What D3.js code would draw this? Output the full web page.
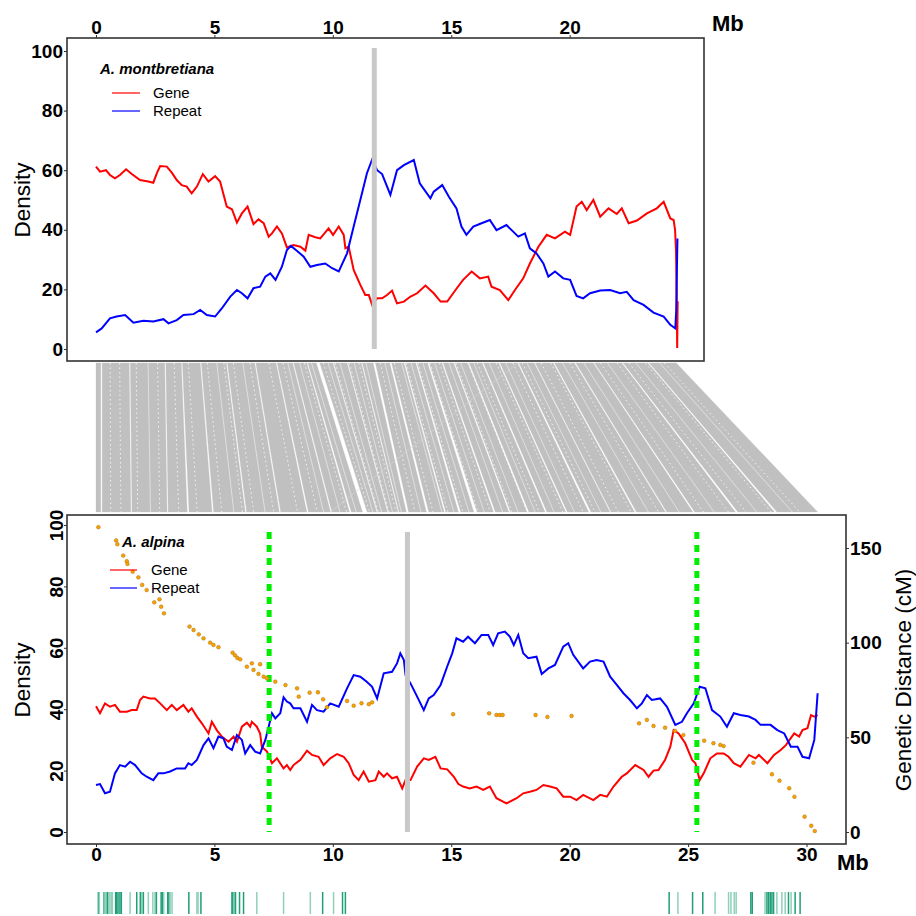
<!DOCTYPE html>
<html><head><meta charset="utf-8">
<script src="https://cdn.jsdelivr.net/npm/d3@7"></script>
<style>body{margin:0;background:#fff} svg{display:block} text{font-family:"Liberation Sans",Arial,sans-serif}</style>
</head><body><svg id="c" width="916" height="916"></svg>
<script>
// ---------------- DATA ----------------
const topXTicks = [0, 5, 10, 15, 20];
const botXTicks = [0, 5, 10, 15, 20, 25, 30];
const densTicks = [0, 20, 40, 60, 80, 100];
const cmTicks = [0, 50, 100, 150];
const speciesTop = "A. montbretiana";
const speciesBot = "A. alpina";
const seriesNames = ["Gene", "Repeat"];

// A. montbretiana gene density [Mb, %]
const topGene = [[0,61.2],[0.17,59.5],[0.42,60],[0.59,58.4],[0.8,57.3],[1.01,58.4],[1.27,60.3],[1.51,58.7],[1.86,56.7],[2.21,56.2],[2.42,55.8],[2.57,59],[2.71,61.4],[2.99,61.2],[3.2,59.2],[3.41,56.7],[3.62,55],[3.83,54.5],[4.04,52.2],[4.26,54.5],[4.51,58.7],[4.75,56.2],[5.03,58],[5.24,56.2],[5.52,47.8],[5.74,46.9],[5.95,42.4],[6.16,45.5],[6.4,47.8],[6.65,41.9],[6.86,43.5],[7.08,42.2],[7.29,37.7],[7.43,38.8],[7.64,41.1],[7.85,38.8],[8.06,34.1],[8.34,34.9],[8.63,34.3],[8.84,33],[8.98,38.3],[9.26,37.5],[9.47,37.1],[9.82,40.5],[10.01,38.3],[10.25,41.1],[10.46,38.3],[10.53,33.8],[10.67,34.3],[10.88,26.5],[11.16,21.5],[11.37,18.1],[11.52,18.1],[11.66,14.8],[11.87,17],[12.08,17],[12.29,18.1],[12.5,19.6],[12.71,15.3],[13,15.9],[13.28,17.6],[13.56,18.7],[13.91,21.3],[14.26,18.7],[14.55,15.9],[14.83,15.9],[15.18,19.8],[15.5,23.2],[15.86,26],[16.21,23.7],[16.56,24.3],[16.7,20.9],[17.05,19.8],[17.41,16.4],[17.69,19.8],[18.04,23.7],[18.32,28.7],[18.68,34.3],[19.03,38.3],[19.38,37.1],[19.8,39.4],[20.02,38.3],[20.29,47.8],[20.51,49.4],[20.72,46.6],[21,50],[21.29,44.4],[21.64,47.2],[21.99,45.3],[22.2,47.2],[22.49,42.2],[22.84,43.1],[23.26,45.5],[23.68,47.2],[23.97,49.4],[24.25,43.8],[24.39,43.3],[24.45,40],[24.49,33],[24.52,18],[24.54,0.3],[24.56,16]];
// A. montbretiana repeat density
const topRepeat = [[0,5.6],[0.24,6.9],[0.59,10.3],[0.87,10.9],[1.23,11.4],[1.58,8.8],[2,9.5],[2.42,9.2],[2.85,10],[3.06,8.6],[3.41,9.7],[3.69,11.4],[4.12,11.7],[4.4,13.1],[4.68,11.4],[5.03,10.9],[5.31,13.6],[5.67,17.6],[5.95,19.8],[6.16,18.7],[6.4,17],[6.65,20.4],[6.93,20.9],[7.15,24.3],[7.36,25.4],[7.58,23.2],[7.85,27.6],[8.06,33.2],[8.23,34.6],[8.48,33],[8.77,31],[9.05,27.6],[9.33,28.2],[9.68,28.7],[9.97,27.1],[10.25,26],[10.6,32.1],[10.88,41.1],[11.16,50],[11.44,59],[11.66,63.6],[11.87,60],[12.08,58.7],[12.43,51.7],[12.71,60],[13,61.7],[13.42,63.4],[13.67,55.6],[14.12,50.6],[14.26,52.8],[14.62,55],[14.9,51.1],[15.22,47.2],[15.43,41.1],[15.64,38.3],[15.93,41.1],[16.28,42.2],[16.63,43.3],[16.91,39.9],[17.33,41.6],[17.55,39.9],[17.83,37.7],[18.11,38.8],[18.32,33.8],[18.6,32.1],[18.89,28.7],[19.1,24.3],[19.38,26],[19.73,23.7],[20.02,23.2],[20.29,17.8],[20.57,17],[20.86,18.7],[21.29,19.6],[21.71,19.8],[22.13,18.7],[22.41,19.2],[22.7,16.4],[23.12,14.8],[23.54,12.2],[23.97,10.9],[24.25,8.1],[24.46,6.9],[24.5,13.1],[24.55,37.1]];
// A. alpina gene density
const botGene = [[0,41],[0.17,38.7],[0.38,41.9],[0.59,40.8],[0.8,41.4],[1.01,39.2],[1.3,39.2],[1.51,39.7],[1.72,39.7],[1.86,43],[2,44.1],[2.28,43.5],[2.49,43.5],[2.71,41.9],[2.99,39.7],[3.2,41.4],[3.41,39.7],[3.69,41.4],[3.9,39.2],[4.04,40.3],[4.26,37.6],[4.47,35.4],[4.75,32.1],[4.89,35.9],[5.1,33.2],[5.31,31.1],[5.6,29.4],[5.81,31.1],[5.95,29.4],[6.16,34.3],[6.37,35.6],[6.51,34.3],[6.58,35.9],[6.79,34.3],[6.93,32.1],[7,27.8],[7.22,26.2],[7.43,22.4],[7.64,24],[7.92,20.7],[8.06,21.8],[8.2,20.2],[8.34,21.8],[8.63,23.5],[8.91,26.5],[9.12,25.1],[9.4,24.5],[9.61,21.8],[9.89,24],[10.18,25.4],[10.46,24.5],[10.67,22.4],[10.88,18.6],[11.09,16.9],[11.3,19.7],[11.52,16.4],[11.8,16.9],[11.94,19.7],[12.15,18],[12.29,19.1],[12.5,17.5],[12.71,18],[12.93,14.2],[13.07,16.9],[13.28,16.9],[13.56,21.3],[13.84,24],[14.05,23.5],[14.33,24.5],[14.55,20.7],[14.83,20.4],[15.11,18],[15.3,15.6],[15.5,14.8],[15.78,14.2],[16.07,14.8],[16.35,13.7],[16.63,14.8],[16.91,11],[17.33,9.3],[17.76,11],[18.04,12.6],[18.32,13.1],[18.6,13.7],[18.89,15.3],[19.17,14.8],[19.45,14.2],[19.73,11.5],[20.02,11.5],[20.29,10.4],[20.57,12.1],[21,10.4],[21.29,12.1],[21.57,11.5],[21.85,14.8],[22.2,18],[22.41,19.1],[22.77,21.8],[23.12,20.2],[23.33,18],[23.54,20],[23.75,20.2],[24.03,23.5],[24.25,27.8],[24.39,33.2],[24.6,32.1],[24.88,28.9],[25.17,23.5],[25.31,22.4],[25.49,16.9],[25.66,19.1],[25.94,24],[26.22,25.6],[26.5,25.6],[26.71,24.5],[26.93,22.4],[27.21,21.3],[27.57,25.1],[27.85,24],[27.99,25.1],[28.35,22.4],[28.63,25.1],[28.91,26.7],[29.13,28.3],[29.48,32.1],[29.69,31.1],[29.83,33.2],[30.04,33.8],[30.19,38.1],[30.33,37.6],[30.47,38.1]];
// A. alpina repeat density
const botRepeat = [[0,15.3],[0.17,15.6],[0.38,12.6],[0.59,13.1],[0.8,19.1],[1.01,21.8],[1.23,21.3],[1.44,22.9],[1.65,21.8],[1.93,19.1],[2.14,18],[2.42,16.9],[2.63,19.1],[2.85,19.1],[3.13,19.7],[3.41,20.7],[3.76,20.7],[3.9,22.4],[4.04,21.8],[4.26,23.5],[4.54,28.3],[4.75,30.5],[4.96,27.3],[5.17,31.1],[5.38,30.5],[5.52,27.8],[5.74,26.7],[5.95,31.6],[6.16,30],[6.3,25.6],[6.51,28.3],[6.72,26.2],[6.93,25.6],[7.15,30],[7.29,34.3],[7.43,38.7],[7.57,37],[7.78,38.7],[7.92,43.9],[8.06,42.5],[8.2,41.9],[8.34,40.3],[8.63,40.3],[8.91,35.9],[9.12,41.4],[9.33,39.7],[9.61,39.2],[9.89,41.9],[10.25,40.8],[10.6,46.8],[10.88,51.1],[11.16,50.6],[11.42,49],[11.66,47.3],[11.87,43.5],[12.15,51.7],[12.5,52.2],[12.71,54.9],[12.85,58.2],[13,56],[13.07,51.1],[13.28,48.4],[13.56,44.1],[13.84,39.7],[14.05,43.5],[14.26,44.6],[14.55,47.9],[14.83,53.9],[15.04,58.2],[15.22,63.1],[15.5,62],[15.71,63.6],[16,61.5],[16.28,64.2],[16.56,64.2],[16.77,60.9],[16.98,64.7],[17.26,65.3],[17.48,63.6],[17.64,60.9],[17.83,64.2],[18.04,58.2],[18.25,56.6],[18.6,57.1],[18.82,51.5],[19.1,53.3],[19.38,54.4],[19.73,60.4],[19.94,61.5],[20.15,57.7],[20.57,53.3],[20.86,55.5],[21.14,56],[21.43,55.5],[21.71,50.6],[21.99,47.9],[22.27,45.2],[22.55,43],[22.84,40.3],[23.05,41.9],[23.26,44.6],[23.47,43],[23.82,43.5],[24.11,40.8],[24.46,34.9],[24.74,35.9],[24.95,38.7],[25.24,41.9],[25.49,47.3],[25.73,46.8],[26.01,39.7],[26.36,37.6],[26.64,34.3],[26.93,38.7],[27.21,38.1],[27.57,37.6],[27.85,36.5],[28.06,34.9],[28.48,34.9],[28.77,33.2],[29.06,32.1],[29.34,27.8],[29.62,27.8],[29.83,24.5],[30.11,24],[30.33,30],[30.47,45.2]];

// genetic map markers: physical position (Mb) and genetic distance (cM)
const mapMb = [0.1,0.85,0.9,1.15,1.3,1.33,1.55,1.79,1.95,2.14,2.46,2.68,2.75,2.87,3.95,4.12,4.34,4.54,4.82,4.96,5.17,5.77,5.87,5.97,6.09,6.37,6.58,6.65,6.93,6.86,7.08,7.22,7.57,8.0,8.49,8.56,9.02,9.37,9.59,9.75,10.6,10.88,11.21,11.52,11.66,15.08,16.6,16.91,17.05,17.17,18.56,19.06,20.08,22.93,23.26,23.54,24.03,24.45,24.8,25.68,26.07,26.36,26.5,27.76,28.54,28.86,29.27,29.49,29.92,30.2,30.35];
const mapCM = [161,154,152,146,143,141.6,137.5,134.5,130.5,127.8,121.3,122.9,119,115.5,108.5,106.7,104.4,102.3,100,98.8,97.6,94.7,93.3,91.9,91.2,87.3,89.1,85.6,88.6,83.5,82,81.2,79.4,77.6,75.9,71.5,73.6,73.8,70.1,65.9,69.2,66.7,68,67.5,68.5,62.2,62.7,61.8,61.8,61.8,61.8,60.8,61.3,57.4,59.2,56,55.1,53.4,51.2,48.2,46.9,46,45.4,36.6,30.5,27.1,23.1,18.6,8.1,3.3,0.5];

// centromeres (Mb) and breakpoints (Mb)
const centroTop = 11.75;
const centroBot = 13.15;
const breakpoints = [7.31, 25.37];

// marker rug (Mb) and class
const rugMb = [0.1,0.14,0.34,0.38,0.42,0.48,0.54,0.59,0.65,0.69,0.83,0.87,0.93,1.01,1.07,1.44,1.72,1.87,1.93,2.0,2.21,2.4,2.49,2.55,2.75,2.8,2.86,3.03,3.08,3.13,3.21,3.92,4.26,4.31,4.43,5.74,5.78,5.84,5.89,6.06,6.23,6.79,7.92,9.05,9.57,10.03,10.41,10.53,
  24.2,24.57,25.19,25.62,26.14,26.71,26.81,26.95,27.03,27.65,27.71,28.25,28.33,28.4,28.47,28.54,28.61,28.75,28.96,29.1,29.24,29.35,29.52,29.73];
const rugType = [0,1,0,1,1,0,1,1,1,1,0,0,0,0,0,1,0,0,1,0,1,1,1,0,0,0,1,0,0,1,1,0,1,1,0,0,0,1,0,0,0,1,1,1,0,1,0,0,
  0,1,0,0,1,1,1,1,1,0,0,1,0,0,0,0,0,1,1,1,0,1,0,0];

// syntenic blocks: [start,end] on A. montbretiana and on A. alpina (Mb)
const blockTop = [[0,0.2],[0.26,1.4],[1.45,2.9],[2.95,3.6],[3.65,4.4],[4.45,5.5],[5.55,6.7],[6.75,7.6],[7.65,8.3],[8.35,8.9],[8.95,9.3],[9.45,10.0],[10.05,10.6],[10.65,11.2],[11.25,11.7],[11.8,12.4],[12.48,13.0],[13.06,13.5],[13.56,14.0],[14.07,14.6],[14.66,15.1],[15.16,15.7],[15.76,16.3],[16.36,17.0],[17.06,17.8],[17.86,18.5],[18.55,19.3],[19.36,20.2],[20.26,21.0],[21.05,22.2],[22.26,23.3],[23.36,24.5]];
const blockBot = [[0,0.2],[0.26,1.47],[1.52,3.0],[3.05,3.85],[3.93,4.9],[4.97,6.3],[6.36,7.74],[7.8,8.9],[8.97,9.9],[9.96,10.7],[10.78,11.25],[11.45,11.85],[11.9,12.3],[12.35,12.75],[12.8,13.1],[13.2,13.95],[14.05,14.7],[14.77,15.3],[15.4,15.95],[16.09,16.78],[16.86,17.43],[17.5,18.2],[18.28,18.96],[19.04,19.83],[19.9,20.8],[20.9,21.7],[21.75,22.74],[22.82,24.04],[24.1,25.2],[25.28,27.0],[27.1,28.65],[28.75,30.47]];
// thin unaligned gaps inside blocks: [Mb montbretiana, Mb alpina, 0 = solid / 1 = dotted]
const gapLinks = [[0.6,0.62,1],[1.0,1.05,1],[1.7,1.76,1],[2.2,2.3,0],[2.6,2.69,1],[3.3,3.49,1],[3.9,4.27,1],[4.7,5.31,1],[5.1,5.82,0],[5.4,6.18,1],[5.8,6.66,1],[6.2,7.14,0],[6.5,7.5,1],[7.3,8.51,1],[7.9,9.34,1],[8.1,9.61,0],[8.6,10.3,0],[8.8,10.58,1],[9.1,10.99,0],[9.6,11.55,1],[9.8,11.69,0],[10.1,11.92,1],[10.3,12.06,0],[10.7,12.37,1],[10.9,12.52,0],[11.1,12.67,1],[11.4,12.89,0],[12.0,13.47,1],[12.2,13.72,0],[12.6,14.23,1],[12.9,14.6,0],[13.1,14.86,1],[13.3,15.11,0],[13.6,15.49,1],[13.8,15.75,0],[14.1,16.13,1],[14.3,16.39,0],[14.5,16.65,1],[14.9,17.17,0],[15.2,17.56,1],[15.4,17.82,0],[15.7,18.21,1],[15.95,18.54,0],[16.1,18.72,1],[16.6,19.34,0],[16.9,19.71,1],[17.3,20.2,0],[17.6,20.57,1],[18.0,21.07,1],[18.2,21.31,0],[18.8,22.05,1],[19.2,22.59,1],[19.7,23.32,0],[20.0,23.75,1],[20.6,24.62,0],[21.3,25.65,1],[21.6,26.1,0],[22.0,26.7,1],[22.5,27.45,1],[22.8,27.9,0],[23.2,28.5,1],[23.8,29.4,0],[24.0,29.71,1]];
// an inverted link [Mb montbretiana, Mb alpina]
const invLink = [17.8, 9.9];

// ---------------- LAYOUT ----------------
const svg = d3.select("#c");
const x = d3.scaleLinear().domain([0, 30]).range([96, 806.5]);
const yTop = d3.scaleLinear().domain([0, 100]).range([349, 51]);
const yBot = d3.scaleLinear().domain([0, 100]).range([832, 525]);
const yCM = d3.scaleLinear().domain([0, 150]).range([832, 548]);
const P1 = {l: 67, r: 704, t: 38, b: 361};
const P2 = {l: 67, r: 846, t: 515, b: 844};
const synY0 = 363, synY1 = 512;
const RED = "#ff0000", BLUE = "#0000ff";

// synteny
const gSyn = svg.append("g");
gSyn.selectAll("path.blk").data(blockTop.map((d, i) => [d, blockBot[i]])).join("path")
  .attr("d", ([t, b]) => `M${x(t[0])},${synY0}L${x(t[1])},${synY0}L${x(b[1])},${synY1}L${x(b[0])},${synY1}Z`)
  .attr("fill", "#c0c0c0").attr("stroke", "#c0c0c0").attr("stroke-width", 0.3);
gSyn.selectAll("line.gap").data(gapLinks).join("line").attr("class", "gap")
  .attr("x1", d => x(d[0])).attr("y1", synY0).attr("x2", d => x(d[1])).attr("y2", synY1)
  .attr("stroke", "#fff").attr("stroke-width", d => d[2] ? 1 : 0.7)
  .attr("stroke-opacity", d => d[2] ? 0.8 : 0.7)
  .attr("stroke-dasharray", d => d[2] ? "1.5,3" : null);
gSyn.append("line").attr("x1", x(invLink[0])).attr("y1", synY0).attr("x2", x(invLink[1])).attr("y2", synY1)
  .attr("stroke", "#d6d6d6").attr("stroke-width", 0.6);

// frames
[P1, P2].forEach(P => svg.append("rect").attr("x", P.l).attr("y", P.t).attr("width", P.r - P.l).attr("height", P.b - P.t)
  .attr("fill", "none").attr("stroke", "#333").attr("stroke-width", 1.6));

const line = (ys) => d3.line().x(d => x(d[0])).y(d => ys(d[1]));
function styleAxis(g, size) {
  g.select(".domain").remove();
  g.selectAll("text").attr("font-size", size).attr("font-weight", "bold").attr("fill", "#000")
    .attr("font-family", "'Liberation Sans', Arial, sans-serif");
  g.selectAll(".tick line").attr("stroke", "#333");
}

// ---- top panel ----
svg.append("g").attr("transform", `translate(0,${P1.t})`)
  .call(d3.axisTop(x).tickValues(topXTicks).tickSize(3).tickPadding(1).tickFormat(d3.format("d")))
  .call(g => styleAxis(g, 19));
svg.append("g").attr("transform", `translate(${P1.l},0)`)
  .call(d3.axisLeft(yTop).tickValues(densTicks).tickSize(3).tickPadding(1).tickFormat(d3.format("d")))
  .call(g => styleAxis(g, 19));
svg.append("path").datum(topGene).attr("d", line(yTop)).attr("fill", "none").attr("stroke", RED).attr("stroke-width", 2);
svg.append("path").datum(topRepeat).attr("d", line(yTop)).attr("fill", "none").attr("stroke", BLUE).attr("stroke-width", 2);
svg.append("line").attr("x1", x(centroTop)).attr("x2", x(centroTop)).attr("y1", yTop(0)).attr("y2", yTop(101))
  .attr("stroke", "#c8c8c8").attr("stroke-width", 5);
svg.append("text").attr("x", 712).attr("y", 31).attr("font-size", 22).attr("font-weight", "bold").text("Mb");
svg.append("text").attr("transform", "translate(30,200) rotate(-90)").attr("text-anchor", "middle")
  .attr("font-size", 22.5).text("Density");
// legend top
svg.append("text").attr("x", 100).attr("y", 74).attr("font-size", 15).attr("font-weight", "bold").attr("font-style", "italic").text(speciesTop);
[[RED, 93], [BLUE, 111]].forEach(([c, yy], i) => {
  svg.append("line").attr("x1", 112).attr("x2", 140).attr("y1", yy).attr("y2", yy).attr("stroke", c).attr("stroke-width", 1.2);
  svg.append("text").attr("x", 153).attr("y", yy + 5).attr("font-size", 15).text(seriesNames[i]);
});

// ---- bottom panel ----
svg.append("g").attr("transform", `translate(0,${P2.b})`)
  .call(d3.axisBottom(x).tickValues(botXTicks).tickSize(3).tickPadding(1).tickFormat(d3.format("d")))
  .call(g => styleAxis(g, 19));
svg.append("g").attr("transform", `translate(${P2.l},0)`)
  .call(d3.axisLeft(yBot).tickValues(densTicks).tickSize(3).tickFormat(d3.format("d")))
  .call(g => {
    styleAxis(g, 19);
    g.selectAll("text").attr("x", null).attr("dy", null).attr("text-anchor", "middle")
      .attr("transform", "translate(-4,0) rotate(-90)");
  });
svg.append("g").attr("transform", `translate(${P2.r},0)`)
  .call(d3.axisRight(yCM).tickValues(cmTicks).tickSize(3).tickPadding(1).tickFormat(d3.format("d")))
  .call(g => styleAxis(g, 19));
svg.append("path").datum(botGene).attr("d", line(yBot)).attr("fill", "none").attr("stroke", RED).attr("stroke-width", 2);
svg.append("path").datum(botRepeat).attr("d", line(yBot)).attr("fill", "none").attr("stroke", BLUE).attr("stroke-width", 2);
svg.append("line").attr("x1", x(centroBot)).attr("x2", x(centroBot)).attr("y1", yBot(0)).attr("y2", yBot(97.7))
  .attr("stroke", "#c8c8c8").attr("stroke-width", 5);
svg.selectAll("line.bp").data(breakpoints).join("line").attr("class", "bp")
  .attr("x1", d => x(d)).attr("x2", d => x(d)).attr("y1", yBot(97.7)).attr("y2", yBot(0))
  .attr("stroke", "#00ee00").attr("stroke-width", 5).attr("stroke-dasharray", "7,6");
svg.selectAll("circle.mk").data(mapMb.map((m, i) => [m, mapCM[i]])).join("circle").attr("class", "mk")
  .attr("cx", d => x(d[0])).attr("cy", d => yCM(d[1])).attr("r", 1.9)
  .attr("fill", "#ffa000").attr("stroke", "#8a6a10").attr("stroke-width", 0.4);
svg.append("text").attr("x", 837).attr("y", 870).attr("font-size", 22).attr("font-weight", "bold").text("Mb");
svg.append("text").attr("transform", "translate(30,680) rotate(-90)").attr("text-anchor", "middle")
  .attr("font-size", 22.5).text("Density");
svg.append("text").attr("transform", "translate(911,680) rotate(-90)").attr("text-anchor", "middle")
  .attr("font-size", 22.5).text("Genetic Distance (cM)");
// legend bottom
svg.append("text").attr("x", 122).attr("y", 547).attr("font-size", 15).attr("font-weight", "bold").attr("font-style", "italic").text(speciesBot);
[[RED, 570], [BLUE, 588]].forEach(([c, yy], i) => {
  svg.append("line").attr("x1", 110).attr("x2", 137).attr("y1", yy).attr("y2", yy).attr("stroke", c).attr("stroke-width", 1.2);
  svg.append("text").attr("x", 151).attr("y", yy + 5).attr("font-size", 15).text(seriesNames[i]);
});

// rug
svg.selectAll("line.rug").data(rugMb.map((m, i) => [m, rugType[i]])).join("line").attr("class", "rug")
  .attr("x1", d => x(d[0])).attr("x2", d => x(d[0])).attr("y1", 892).attr("y2", 914)
  .attr("stroke", d => d[1] ? "#8ed0b8" : "#1f9e78").attr("stroke-width", 1.5);
</script></body></html>
